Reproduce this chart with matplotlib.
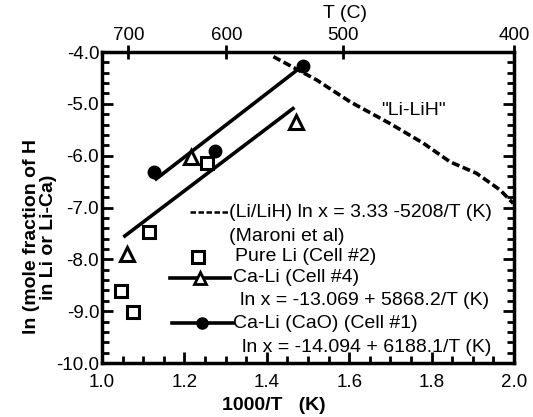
import matplotlib
matplotlib.use("Agg")
import matplotlib.pyplot as plt
from matplotlib.ticker import MultipleLocator, FormatStrFormatter

plt.rcParams['font.family'] = ['Liberation Sans', 'DejaVu Sans']
plt.rcParams['axes.unicode_minus'] = False

# Data (x = 1000/T, y = ln mole fraction)
pure_li_x = [1.046, 1.076, 1.115, 1.254]
pure_li_y = [-8.61, -9.01, -7.48, -6.15]

cell4_x = [1.060, 1.217, 1.471]
cell4_y = [-7.90, -6.03, -5.35]

cell1_x = [1.125, 1.274, 1.487]
cell1_y = [-6.31, -5.91, -4.27]

fit_upper_x = [1.128, 1.483]
fit_upper_y = [-6.47, -4.29]
fit_lower_x = [1.052, 1.467]
fit_lower_y = [-7.57, -5.07]

lilih_x = [1.416, 1.521, 1.602, 1.699, 1.780, 1.845, 1.909, 1.966, 1.998]
lilih_y = [-4.09, -4.54, -4.96, -5.38, -5.76, -6.12, -6.34, -6.66, -6.92]

top_tick_pos = [1.064, 1.302, 1.586, 2.0]
top_tick_labels = ['700', '600', '500', '400']

fig = plt.figure(figsize=(5.33, 4.17), dpi=100)
ax = fig.add_axes([102/533, 1-363/417, 412/533, 311/417])

ax.set_xlim(1.0, 2.0)
ax.set_ylim(-10.0, -4.0)

lw = 2.6
ax.plot(lilih_x, lilih_y, color='black', lw=2.6, ls=(0, (2.2, 1.0)))
ax.plot(fit_upper_x, fit_upper_y, color='black', lw=lw, solid_capstyle='butt')
ax.plot(fit_lower_x, fit_lower_y, color='black', lw=lw, solid_capstyle='butt')

ms = 8.5
ax.plot(pure_li_x, pure_li_y, ls='none', marker='s', ms=ms, mfc='white', mec='black', mew=2.2)
ax.plot(cell4_x, cell4_y, ls='none', marker='^', ms=ms+1, mfc='white', mec='black', mew=2.2)
ax.plot(cell1_x, cell1_y, ls='none', marker='o', ms=ms, mfc='black', mec='black', mew=1.5)

# in-plot legend (text)
fs = 14
ax.plot([1.214, 1.306], [-7.09, -7.09], color='black', lw=1.8, ls=(0, (2.2, 1.0)))
ax.text(1.308, -7.09, '(Li/LiH) ln x = 3.33 -5208/T (K)', fontsize=fs, va='center', ha='left')
ax.text(1.308, -7.56, '(Maroni et al)', fontsize=fs, va='center', ha='left')
ax.plot([1.233], [-7.96], ls='none', marker='s', ms=8, mfc='white', mec='black', mew=2.2)
ax.text(1.323, -7.94, 'Pure Li (Cell #2)', fontsize=fs, va='center', ha='left')
ax.plot([1.165, 1.311], [-8.36, -8.36], color='black', lw=lw)
ax.plot([1.238], [-8.36], ls='none', marker='^', ms=8, mfc='white', mec='black', mew=2.0)
ax.text(1.318, -8.36, 'Ca-Li (Cell #4)', fontsize=fs, va='center', ha='left')
ax.text(1.335, -8.79, 'ln x = -13.069 + 5868.2/T (K)', fontsize=fs, va='center', ha='left')
ax.plot([1.170, 1.318], [-9.23, -9.23], color='black', lw=lw)
ax.plot([1.243], [-9.23], ls='none', marker='o', ms=8, mfc='black', mec='black')
ax.text(1.318, -9.23, 'Ca-Li (CaO) (Cell #1)', fontsize=fs, va='center', ha='left')
ax.text(1.340, -9.71, 'ln x = -14.094 + 6188.1/T (K)', fontsize=fs, va='center', ha='left')

ax.text(1.755, -5.12, '"Li-LiH"', fontsize=fs, va='center', ha='center')

# ticks
ax.xaxis.set_major_locator(MultipleLocator(0.2))
ax.xaxis.set_minor_locator(MultipleLocator(0.05))
ax.yaxis.set_major_locator(MultipleLocator(1.0))
ax.yaxis.set_minor_locator(MultipleLocator(0.2))
ax.xaxis.set_major_formatter(FormatStrFormatter('%.1f'))
ax.yaxis.set_major_formatter(FormatStrFormatter('%.1f'))
ax.tick_params(which='both', direction='in', width=2, labelsize=13.5)
ax.tick_params(which='major', length=8, bottom=True, top=False, left=True, right=True)
ax.tick_params(which='minor', length=5, bottom=True, top=True, left=True, right=True)
ax.tick_params(axis='y', pad=2)
ax.tick_params(axis='x', pad=8)
for s in ax.spines.values():
    s.set_linewidth(2.5)

ax2 = ax.twiny()
ax2.set_xlim(ax.get_xlim())
ax2.set_xticks(top_tick_pos)
ax2.set_xticklabels(top_tick_labels)
ax2.xaxis.set_minor_locator(MultipleLocator(10))
ax2.tick_params(axis='x', which='major', direction='inout', length=10, width=2, labelsize=13.5, pad=1)
for s in ax2.spines.values():
    s.set_visible(False)

fig.text(345/533, 1-14/417, 'T (C)', fontsize=14, ha='center', va='center')

fig.text(274/533, 1-406/417, '1000/T   (K)', fontsize=14, fontweight='bold', ha='center', va='center')
fig.text(40/533, 1-237/417, 'ln (mole fraction of H\nin Li or Li-Ca)', fontsize=14, fontweight='bold',
         ha='center', va='center', rotation=90, linespacing=1.0, multialignment='center')

fig.savefig('out.png', dpi=100)
